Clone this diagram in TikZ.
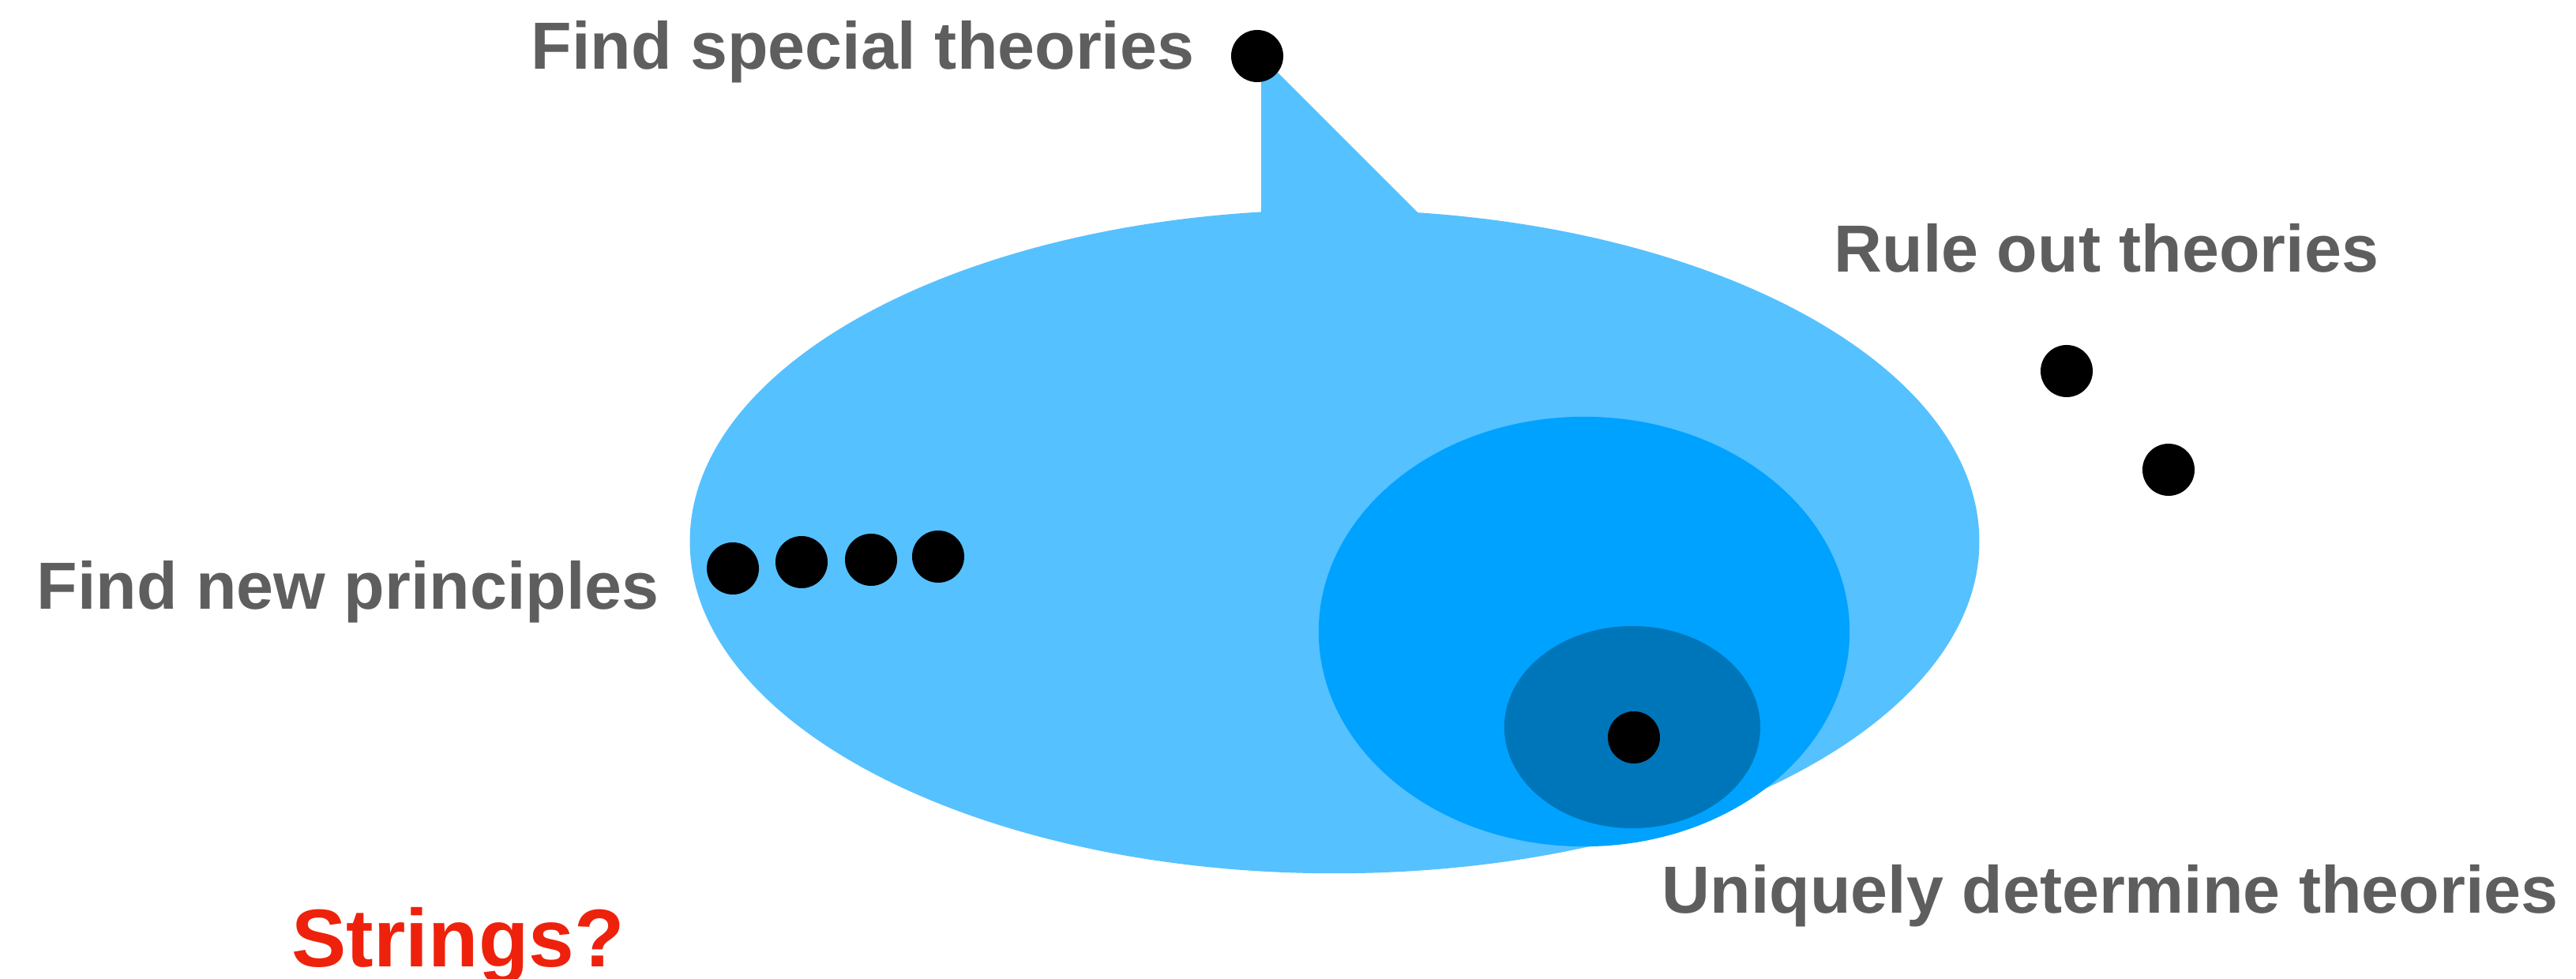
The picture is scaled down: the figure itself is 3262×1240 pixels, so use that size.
\documentclass[tikz,border=0pt]{standalone}
\usepackage{fontspec}
\setmainfont{Liberation Sans}
\usepackage{tikz}
\usetikzlibrary{shapes.geometric, positioning}
\definecolor{lightsky}{HTML}{56C1FF}
\definecolor{midsky}{HTML}{00A2FF}
\definecolor{deepsky}{HTML}{0076BA}
\definecolor{labelgray}{HTML}{5E5E5E}
\definecolor{alertred}{HTML}{EE220C}

\begin{document}
\begin{tikzpicture}[
    x=0.01cm, y=-0.01cm,
    region/.style={ellipse, inner sep=0pt, draw=none},
    dot/.style={circle, fill=black, inner sep=0pt, minimum size=0.66cm},
    label/.style={font=\fontsize{24}{28}\selectfont\bfseries, text=labelgray, inner sep=0pt, anchor=base west},
    alert/.style={font=\fontsize{29.5}{34}\selectfont\bfseries, text=alertred, inner sep=0pt, anchor=base west}
]
\useasboundingbox (0,0) rectangle (3262,1240);

% Theory space with callout tail
\fill[lightsky] (1597,300) -- (1597,71) -- (1801,275) -- (1801,300) -- cycle;
\node[region, fill=lightsky, minimum width=16.32cm, minimum height=8.4cm] (space) at (1690,686) {};
\node[region, fill=midsky, minimum width=6.72cm, minimum height=5.44cm] (consistent) at (2006,800) {};
\node[region, fill=deepsky, minimum width=3.24cm, minimum height=2.56cm] (unique) at (2067,921) {};

\node[dot] (special) at (1592,71) {};
\node[dot] (p1) at (928,720) {};
\node[dot] (p2) at (1015,712) {};
\node[dot] (p3) at (1103,709) {};
\node[dot] (p4) at (1188,705) {};
\node[dot] (out1) at (2617,470) {};
\node[dot] (out2) at (2746,595) {};
\node[dot] (theory) at (2069,934) {};

% Labels
\node[label] (lspecial) at (672,88) {Find special theories};
\node[label] (lout) at (2322,345) {Rule out theories};
\node[label] (lnew) at (46,772) {Find new principles};
\node[label] (lunique) at (2104,1156) {Uniquely determine theories};
\node[alert] (strings) at (369,1225) {Strings?};

\end{tikzpicture}
\end{document}
